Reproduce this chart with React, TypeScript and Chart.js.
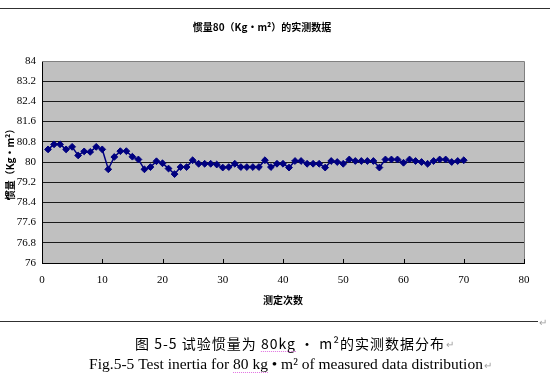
import React, { useEffect, useRef } from "react";
import { Chart, registerables } from "chart.js";

Chart.register(...registerables);

// ---- data ----
const runs = [
  1, 2, 3, 4, 5, 6, 7, 8, 9, 10,
  11, 12, 13, 14, 15, 16, 17, 18, 19, 20,
  21, 22, 23, 24, 25, 26, 27, 28, 29, 30,
  31, 32, 33, 34, 35, 36, 37, 38, 39, 40,
  41, 42, 43, 44, 45, 46, 47, 48, 49, 50,
  51, 52, 53, 54, 55, 56, 57, 58, 59, 60,
  61, 62, 63, 64, 65, 66, 67, 68, 69, 70,
];
const inertia = [
  80.5, 80.7, 80.7, 80.5, 80.6, 80.26, 80.42, 80.4, 80.6, 80.5,
  79.71, 80.2, 80.43, 80.43, 80.21, 80.1, 79.71, 79.8, 80.03, 79.95,
  79.74, 79.52, 79.8, 79.8, 80.07, 79.93, 79.93, 79.93, 79.9, 79.78,
  79.8, 79.93, 79.8, 79.8, 79.8, 79.8, 80.07, 79.8, 79.93, 79.93,
  79.78, 80.04, 80.04, 79.93, 79.93, 79.93, 79.78, 80.04, 80.0, 79.93,
  80.1, 80.04, 80.04, 80.04, 80.04, 79.78, 80.1, 80.1, 80.1, 79.97,
  80.1, 80.04, 80.0, 79.93, 80.04, 80.1, 80.1, 80.0, 80.04, 80.07,
];
const xTicks = [0, 10, 20, 30, 40, 50, 60, 70, 80];
const yTicks = [76, 76.8, 77.6, 78.4, 79.2, 80, 80.8, 81.6, 82.4, 83.2, 84];
const yTickLabels = ["76", "76.8", "77.6", "78.4", "79.2", "80", "80.8", "81.6", "82.4", "83.2", "84"];

const chartTitle = "惯量80（Kg·m²）的实测数据";
const xTitle = "测定次数";
const yTitle = "惯量（Kg·m²）";
const captionCn = ["图 5-5 试验惯量为 ", "80kg", " • m²的实测数据分布"];
const captionEn = ["Fig.5-5 Test inertia for ", "80 kg", " • m² of measured data distribution"];

const CJK = "'Noto Sans CJK SC', sans-serif";
const SERIF = "'Liberation Serif', serif";

const decor = {
  id: "decor",
  beforeDraw(chart: any) {
    const { ctx, chartArea } = chart;
    const { left, top, right, bottom } = chartArea;
    ctx.save();
    ctx.fillStyle = "#c0c0c0";
    ctx.fillRect(left, top, right - left, bottom - top);
    ctx.restore();
  },
  afterDraw(chart: any) {
    const { ctx, chartArea, scales } = chart;
    const { left, top, right, bottom } = chartArea;
    ctx.save();
    // plot area border (top / right)
    ctx.strokeStyle = "#808080";
    ctx.lineWidth = 1;
    ctx.beginPath();
    ctx.moveTo(left, top + 0.5);
    ctx.lineTo(right + 0.5, top + 0.5);
    ctx.lineTo(right + 0.5, bottom);
    ctx.stroke();
    // inside x tick marks
    ctx.strokeStyle = "#000";
    ctx.beginPath();
    for (const v of xTicks) {
      const px = Math.round(scales.x.getPixelForValue(v)) + 0.5;
      ctx.moveTo(px, bottom);
      ctx.lineTo(px, bottom - 4);
    }
    ctx.stroke();
    // frame lines
    ctx.strokeStyle = "#303030";
    ctx.beginPath();
    ctx.moveTo(0, 8.5);
    ctx.lineTo(550, 8.5);
    ctx.moveTo(0, 321.5);
    ctx.lineTo(538, 321.5);
    ctx.stroke();
    ctx.fillStyle = "#a0a0a0";
    ctx.font = "10px " + SERIF;
    ctx.textBaseline = "middle";
    ctx.fillText("↵", 539, 323);

    const drawLine = (parts: string[], font: string, spacing: string, cx: number, cy: number) => {
      ctx.font = font;
      (ctx as any).letterSpacing = spacing;
      ctx.textBaseline = "middle";
      const widths = parts.map((p) => ctx.measureText(p).width);
      const total = widths.reduce((a, b) => a + b, 0);
      let x = cx - total / 2;
      parts.forEach((p, i) => {
        ctx.fillStyle = "#000";
        ctx.fillText(p, x, cy);
        if (i === 1) {
          ctx.strokeStyle = "#e070e0";
          ctx.setLineDash([1, 1]);
          ctx.beginPath();
          ctx.moveTo(x, cy + 7.5);
          ctx.lineTo(x + widths[i], cy + 7.5);
          ctx.stroke();
          ctx.setLineDash([]);
        }
        x += widths[i];
      });
      (ctx as any).letterSpacing = "0px";
      ctx.fillStyle = "#a0a0a0";
      ctx.font = "10px " + SERIF;
      ctx.fillText("↵", x + 1, cy + 1);
    };
    drawLine(captionCn, "14px " + CJK, "1px", 290, 344);
    drawLine(captionEn, "15.5px " + SERIF, "0px", 286, 365);
    ctx.restore();
  },
};

export default function App() {
  const ref = useRef<HTMLCanvasElement | null>(null);
  useEffect(() => {
    if (!ref.current) return;
    const tickFont = { family: SERIF, size: 11 };
    const chart = new Chart(ref.current, {
      type: "line",
      data: {
        datasets: [
          {
            data: runs.map((r, i) => ({ x: r, y: inertia[i] })),
            borderColor: "#000080",
            backgroundColor: "#000080",
            borderWidth: 1.5,
            pointStyle: "rectRot",
            pointRadius: 3.4,
            pointBorderWidth: 1,
            pointBorderColor: "#000080",
            pointBackgroundColor: "#000080",
            tension: 0,
          },
        ],
      },
      options: {
        responsive: false,
        animation: false,
        layout: { padding: { left: 0, right: 26, top: 0, bottom: 69 } },
        plugins: {
          legend: { display: false },
          tooltip: { enabled: false },
          title: {
            display: true,
            text: chartTitle,
            color: "#000",
            font: { family: CJK, size: 10, weight: "bold" },
            padding: { top: 21, bottom: 28 },
          },
        },
        scales: {
          x: {
            type: "linear",
            min: 0,
            max: 80,
            afterBuildTicks: (s: any) => {
              s.ticks = xTicks.map((v) => ({ value: v }));
            },
            afterFit: (s: any) => {
              s.height = 47;
            },
            grid: { display: false, drawTicks: false },
            border: { display: true, color: "#000", width: 1 },
            ticks: {
              padding: 11,
              color: "#000",
              font: tickFont,
              maxRotation: 0,
              autoSkip: false,
              callback: (v: any) => String(v),
            },
            title: {
              display: true,
              text: xTitle,
              color: "#000",
              font: { family: CJK, size: 10, weight: "bold" },
              padding: { top: 0, bottom: 4 },
            },
          },
          y: {
            type: "linear",
            min: 76,
            max: 84,
            afterBuildTicks: (s: any) => {
              s.ticks = yTicks.map((v) => ({ value: v }));
            },
            afterFit: (s: any) => {
              s.width = 42;
            },
            grid: { color: "#1a1a1a", drawTicks: false, lineWidth: 1 },
            border: { display: true, color: "#000", width: 1 },
            ticks: {
              padding: 6,
              color: "#000",
              font: tickFont,
              autoSkip: false,
              callback: (_v: any, i: number) => yTickLabels[i],
            },
            title: {
              display: true,
              text: yTitle,
              color: "#000",
              font: { family: CJK, size: 10, weight: "bold" },
              padding: { top: 4, bottom: 0 },
            },
          },
        },
      },
      plugins: [decor],
    } as any);
    return () => chart.destroy();
  }, []);
  return (
    <div style={{ position: "absolute", left: 0, top: 0, width: 550, height: 379, background: "#fff" }}>
      <canvas ref={ref} width={550} height={379} style={{ display: "block", width: 550, height: 379 }} />
    </div>
  );
}
